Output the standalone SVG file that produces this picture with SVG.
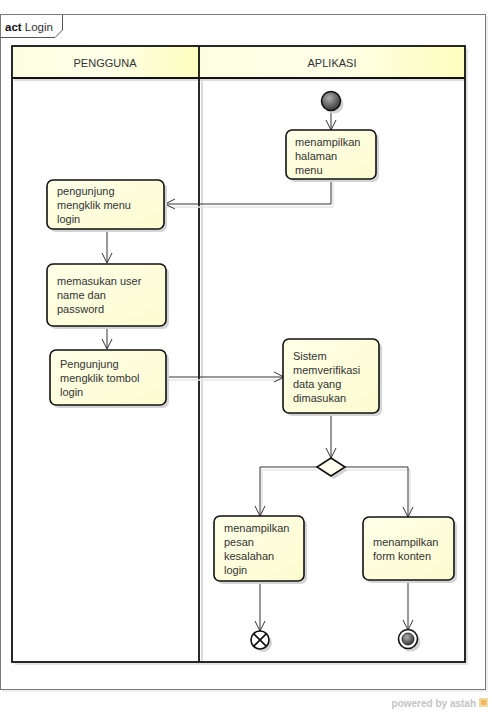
<svg xmlns="http://www.w3.org/2000/svg" width="492" height="720" viewBox="0 0 492 720">
<defs>
<linearGradient id="nodeFill" x1="0" y1="0" x2="1" y2="1">
<stop offset="0" stop-color="#ffffe8"/>
<stop offset="1" stop-color="#fcfcd0"/>
</linearGradient>
<linearGradient id="headFill" x1="0" y1="0" x2="1" y2="0">
<stop offset="0" stop-color="#fdfde0"/>
<stop offset="0.5" stop-color="#ffffe8"/>
<stop offset="1" stop-color="#fdfdbe"/>
</linearGradient>
<radialGradient id="ballFill" cx="0.4" cy="0.35" r="0.7">
<stop offset="0" stop-color="#b0b0b0"/>
<stop offset="1" stop-color="#303030"/>
</radialGradient>
<marker id="arrow" viewBox="0 0 12 12" refX="11" refY="6" markerWidth="12" markerHeight="12" markerUnits="userSpaceOnUse" orient="auto">
<path d="M1,1 L11,6 L1,11" fill="none" stroke="#333" stroke-width="1"/>
</marker>
<style>
.lbl{font-family:"Liberation Sans",Arial,sans-serif;font-size:11px;fill:#333;}
.act{fill:url(#nodeFill);stroke:#111;stroke-width:1.6;}
.shadow{fill:#d4d4d4;}
.edge{fill:none;stroke:#333;stroke-width:1;marker-end:url(#arrow);}
.eshadow{fill:none;stroke:#e6e6e6;stroke-width:1.5;}
</style>
</defs>

<!-- outer frame -->
<g id="frame">
<rect x="0.5" y="14.5" width="485" height="675" fill="#fff" stroke="#7a7a7a" stroke-width="1"/>
<line x1="487" y1="16" x2="487" y2="691" stroke="#e0e0e0" stroke-width="1"/>
<line x1="2" y1="691" x2="487" y2="691" stroke="#e0e0e0" stroke-width="1"/>
<path d="M0.5,37.5 H55 L62.5,30 V14.5" fill="#fcfcfc" stroke="#555" stroke-width="1"/>
<text x="5" y="31" class="lbl" style="font-size:11.5px"><tspan font-weight="bold" fill="#111">act</tspan> Login</text>
</g>

<!-- swimlanes -->
<g id="lanes">
<rect x="15" y="49" width="453" height="616" fill="#e4e4e4"/>
<rect x="12" y="46" width="453" height="616" fill="#fff"/>
<rect x="12" y="46" width="187" height="32" fill="url(#headFill)"/>
<rect x="199" y="46" width="266" height="32" fill="url(#headFill)"/>
<line x1="14" y1="80" x2="465" y2="80" stroke="#dcdcdc" stroke-width="2"/>
<line x1="202" y1="80" x2="202" y2="662" stroke="#dcdcdc" stroke-width="2"/>
<rect x="12" y="46" width="453" height="616" fill="none" stroke="#111" stroke-width="1.8"/>
<line x1="12" y1="78" x2="465" y2="78" stroke="#111" stroke-width="1.8"/>
<line x1="199" y1="46" x2="199" y2="662" stroke="#111" stroke-width="1.8"/>
<text x="105" y="67" text-anchor="middle" class="lbl">PENGGUNA</text>
<text x="332" y="67" text-anchor="middle" class="lbl">APLIKASI</text>
</g>

<!-- connectors -->
<g id="connectors">
<path class="edge" d="M331,111 V130"/>
<path class="eshadow" d="M333,181 V207 H167"/>
<path class="edge" d="M331,179 V204 H165"/>
<path class="edge" d="M107,229 V263"/>
<path class="edge" d="M107,326 V349"/>
<path class="eshadow" d="M166,380 H283"/>
<path class="edge" d="M166,377 H284"/>
<path class="edge" d="M331,413 V458"/>
<path class="eshadow" d="M317,470 H262 V516"/>
<path class="edge" d="M317,467 H260 V516"/>
<path class="eshadow" d="M345,470 H410 V516"/>
<path class="edge" d="M345,467 H408 V517"/>
<path class="edge" d="M260,581 V631"/>
<path class="edge" d="M408,580 V630"/>
</g>

<!-- nodes -->
<g id="initial">
<circle cx="334" cy="104" r="9.5" class="shadow"/>
<circle cx="331" cy="101" r="9.5" fill="url(#ballFill)" stroke="#111" stroke-width="1.5"/>
</g>

<g id="n-menu">
<rect x="289" y="133" width="90" height="49" rx="6" class="shadow"/>
<rect x="286" y="130" width="90" height="49" rx="6" class="act"/>
<text class="lbl"><tspan x="295" y="146">menampilkan</tspan><tspan x="295" y="160">halaman</tspan><tspan x="295" y="174">menu</tspan></text>
</g>

<g id="n-klikmenu">
<rect x="50" y="183" width="117" height="49" rx="6" class="shadow"/>
<rect x="47" y="180" width="117" height="49" rx="6" class="act"/>
<text class="lbl"><tspan x="57" y="195">pengunjung</tspan><tspan x="57" y="209">mengklik menu</tspan><tspan x="57" y="223">login</tspan></text>
</g>

<g id="n-input">
<rect x="50" y="267" width="119" height="62" rx="6" class="shadow"/>
<rect x="47" y="264" width="119" height="62" rx="6" class="act"/>
<text class="lbl"><tspan x="57" y="285">memasukan user</tspan><tspan x="57" y="299">name dan</tspan><tspan x="57" y="313">password</tspan></text>
</g>

<g id="n-tombol">
<rect x="53" y="353" width="116" height="55" rx="6" class="shadow"/>
<rect x="50" y="350" width="116" height="55" rx="6" class="act"/>
<text class="lbl"><tspan x="60" y="368">Pengunjung</tspan><tspan x="60" y="382">mengklik tombol</tspan><tspan x="60" y="396">login</tspan></text>
</g>

<g id="n-verif">
<rect x="286" y="342" width="96" height="74" rx="6" class="shadow"/>
<rect x="283" y="339" width="96" height="74" rx="6" class="act"/>
<text class="lbl"><tspan x="293" y="360">Sistem</tspan><tspan x="293" y="374">memverifikasi</tspan><tspan x="293" y="388">data yang</tspan><tspan x="293" y="402">dimasukan</tspan></text>
</g>

<g id="decision">
<path d="M334,461 L348,470 L334,479 L320,470 Z" class="shadow"/>
<path d="M331,458 L345,467 L331,476 L317,467 Z" fill="#fffff0" stroke="#111" stroke-width="1.6"/>
</g>

<g id="n-error">
<rect x="217" y="519" width="90" height="65" rx="6" class="shadow"/>
<rect x="214" y="516" width="90" height="65" rx="6" class="act"/>
<text class="lbl"><tspan x="224" y="532">menampilkan</tspan><tspan x="224" y="546">pesan</tspan><tspan x="224" y="560">kesalahan</tspan><tspan x="224" y="574">login</tspan></text>
</g>

<g id="n-konten">
<rect x="366" y="520" width="91" height="63" rx="6" class="shadow"/>
<rect x="363" y="517" width="91" height="63" rx="6" class="act"/>
<text class="lbl"><tspan x="373" y="546">menampilkan</tspan><tspan x="373" y="560">form konten</tspan></text>
</g>

<g id="flowfinal">
<circle cx="263" cy="643" r="9" class="shadow"/>
<circle cx="260" cy="640" r="9" fill="#fff" stroke="#111" stroke-width="1.6"/>
<path d="M253.6,633.6 L266.4,646.4 M266.4,633.6 L253.6,646.4" stroke="#111" stroke-width="1.6"/>
</g>

<g id="final">
<circle cx="411" cy="642" r="9.5" class="shadow"/>
<circle cx="408" cy="639" r="9.5" fill="#fff" stroke="#111" stroke-width="1.6"/>
<circle cx="408" cy="639" r="6" fill="url(#ballFill)" stroke="#111" stroke-width="0.8"/>
</g>

<g id="watermark">
<text x="476" y="707" text-anchor="end" style="font-family:'Liberation Sans',Arial,sans-serif;font-size:10px;font-weight:bold;fill:#c4c4c4">powered by astah</text>
<rect x="479" y="698" width="9" height="9" fill="#f3d9a0"/>
<rect x="481" y="700" width="5" height="5" fill="#f0b860"/>
</g>
</svg>
